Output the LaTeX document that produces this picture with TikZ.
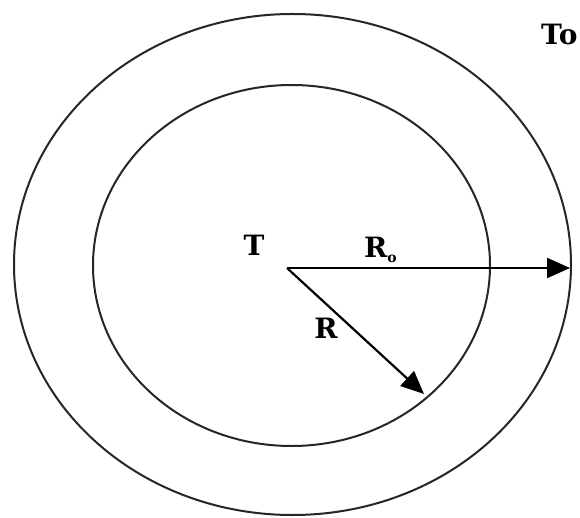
\documentclass[tikz,border=0pt]{standalone}
\usepackage{fontspec}
\setmainfont{DejaVu Serif}
\usetikzlibrary{arrows.meta}
\begin{document}
\begin{tikzpicture}[x=1pt,y=-1pt,
  ring/.style={draw=black!85,line width=2pt},
  radius arrow/.style={draw=black,line width=2.2pt,-{Triangle[length=23pt,width=20pt]}},
  lbl/.style={font=\fontsize{28}{32}\selectfont\bfseries,inner sep=0pt}]
\useasboundingbox (0,0) rectangle (580,518);
\fill[white] (0,0) rectangle (580,518);
\coordinate (O) at (287,268);
\coordinate (outer tip) at (570,268);
\coordinate (inner tip) at (424,394);
\draw[ring] (292.5,264.5) ellipse [x radius=278.5, y radius=250.5];
\draw[ring] (291.5,265.5) ellipse [x radius=198.5, y radius=180.5];
\draw[radius arrow] (O) -- (outer tip);
\draw[radius arrow] (O) -- (inner tip);
\node[lbl] (T) at (254,245) {T};
\node[lbl,anchor=base west] (Ro) at (364,258) {R\raisebox{-5pt}{\fontsize{14}{14}\selectfont o}};
\node[lbl] (R) at (326,328) {R};
\node[lbl,anchor=west] (To) at (541,34) {To};
\end{tikzpicture}
\end{document}
